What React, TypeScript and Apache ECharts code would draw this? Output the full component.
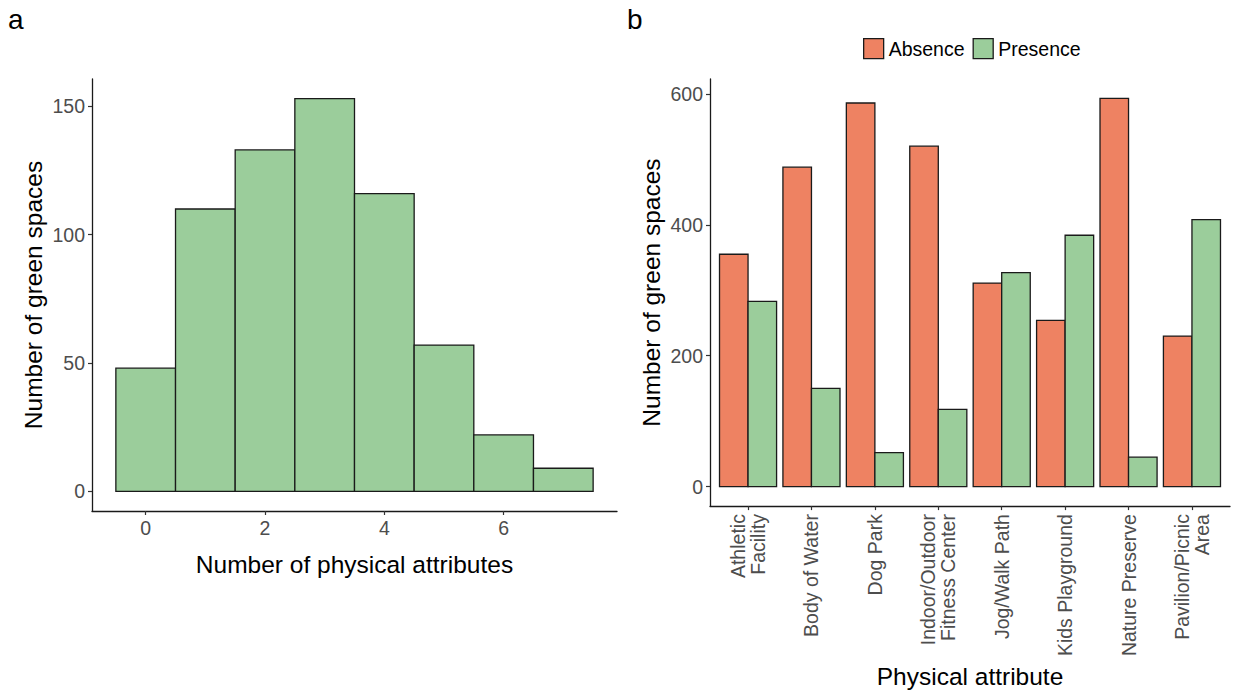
import React, { useEffect, useRef } from "react";
import * as echarts from "echarts";

// ---- Data ----
const histBins: number[] = [0, 1, 2, 3, 4, 5, 6, 7];
const histCounts: number[] = [48, 110, 133, 153, 116, 57, 22, 9];
const histTicks: number[] = [0, 2, 4, 6];
const histYTicks: number[] = [0, 50, 100, 150];

const attributes: string[] = [
  "Athletic\nFacility",
  "Body of Water",
  "Dog Park",
  "Indoor/Outdoor\nFitness Center",
  "Jog/Walk Path",
  "Kids Playground",
  "Nature Preserve",
  "Pavilion/Picnic\nArea",
];
const absence: number[] = [355, 488, 586, 520, 311, 254, 593, 230];
const presence: number[] = [283, 150, 52, 118, 327, 384, 45, 408];
const barYTicks: number[] = [0, 200, 400, 600];

const GREEN = "#9BCD9B";
const ORANGE = "#EE8262";
const FONT = "Liberation Sans, Arial, sans-serif";

export default function App() {
  const ref = useRef<HTMLDivElement>(null);
  useEffect(() => {
    if (!ref.current) return;
    const chart = echarts.init(ref.current, null, { renderer: "svg" });

    const histData = histBins.map((b, i) => [b, histCounts[i]]);
    const absData = attributes.map((_, i) => [i + 1, absence[i]]);
    const presData = attributes.map((_, i) => [i + 1, presence[i]]);

    const rectItem = (lo: number, hi: number, fill: string) => (params: any, api: any) => {
      const x = api.value(0);
      const v = api.value(1);
      const p0 = api.coord([x + lo, v]);
      const p1 = api.coord([x + hi, 0]);
      return {
        type: "rect",
        shape: { x: p0[0], y: p0[1], width: p1[0] - p0[0], height: p1[1] - p0[1] },
        style: { fill, stroke: "#1a1a1a", lineWidth: 1.3 },
      };
    };

    const hMax = Math.max(...histCounts);
    const bMax = Math.max(...absence, ...presence);

    const axisLabel = { color: "#4D4D4D", fontSize: 19.5, fontFamily: FONT, margin: 7 };
    const axisTick = { show: true, length: 4, lineStyle: { color: "#333", width: 1.2 } };
    const axisLine = { show: true, onZero: false, lineStyle: { color: "#1a1a1a", width: 1.3 } };
    const nameStyle = { color: "#000", fontSize: 24.5, fontFamily: FONT };

    chart.setOption({
      animation: false,
      textStyle: { fontFamily: FONT },
      graphic: [
        { type: "text", left: 8, top: 5, style: { text: "a", fontSize: 28, fontFamily: FONT, fill: "#000" } },
        { type: "text", left: 627, top: 5, style: { text: "b", fontSize: 28, fontFamily: FONT, fill: "#000" } },
      ],
      legend: {
        data: [
          { name: "Absence", itemStyle: { color: ORANGE, borderColor: "#1a1a1a", borderWidth: 1.3 } },
          { name: "Presence", itemStyle: { color: GREEN, borderColor: "#1a1a1a", borderWidth: 1.3 } },
        ],
        left: 858,
        top: 33,
        icon: "rect",
        itemWidth: 20,
        itemHeight: 20,
        itemGap: 8,
        textStyle: { fontSize: 19.5, fontFamily: FONT, color: "#000", padding: [0, 0, 0, 0] },
      },
      grid: [
        { left: 92, width: 525, top: 79, height: 432 },
        { left: 710, width: 520, top: 79, height: 432 },
      ],
      xAxis: [
        {
          gridIndex: 0,
          type: "value",
          min: -0.9,
          max: 7.9,
          splitLine: { show: false },
          axisLine,
          axisTick: { ...axisTick, customValues: histTicks },
          axisLabel: { ...axisLabel, customValues: histTicks },
          name: "Number of physical attributes",
          nameLocation: "middle",
          nameGap: 41,
          nameTextStyle: nameStyle,
        },
        {
          gridIndex: 1,
          type: "value",
          min: 0.4,
          max: attributes.length + 0.6,
          splitLine: { show: false },
          axisLine,
          axisTick: { ...axisTick, customValues: attributes.map((_, i) => i + 1) },
          axisLabel: {
            ...axisLabel,
            margin: 8,
            customValues: attributes.map((_, i) => i + 1),
            rotate: 90,
            lineHeight: 20,
            formatter: (v: number) => attributes[Math.round(v) - 1] ?? "",
          },
          name: "Physical attribute",
          nameLocation: "middle",
          nameGap: 152,
          nameTextStyle: nameStyle,
        },
      ],
      yAxis: [
        {
          gridIndex: 0,
          type: "value",
          min: -hMax * 0.05,
          max: hMax * 1.05,
          splitLine: { show: false },
          axisLine,
          axisTick: { ...axisTick, customValues: histYTicks },
          axisLabel: { ...axisLabel, customValues: histYTicks },
          name: "Number of green spaces",
          nameLocation: "middle",
          nameGap: 46,
          nameTextStyle: nameStyle,
        },
        {
          gridIndex: 1,
          type: "value",
          min: -bMax * 0.05,
          max: bMax * 1.05,
          splitLine: { show: false },
          axisLine,
          axisTick: { ...axisTick, customValues: barYTicks },
          axisLabel: { ...axisLabel, customValues: barYTicks },
          name: "Number of green spaces",
          nameLocation: "middle",
          nameGap: 46,
          nameTextStyle: nameStyle,
        },
      ],
      series: [
        {
          name: "Count",
          type: "custom",
          xAxisIndex: 0,
          yAxisIndex: 0,
          renderItem: rectItem(-0.5, 0.5, GREEN),
          data: histData,
          encode: { x: 0, y: 1 },
          itemStyle: { color: GREEN },
        },
        {
          name: "Absence",
          type: "custom",
          xAxisIndex: 1,
          yAxisIndex: 1,
          renderItem: rectItem(-0.45, 0, ORANGE),
          data: absData,
          encode: { x: 0, y: 1 },
          itemStyle: { color: ORANGE, borderColor: "#1a1a1a" },
        },
        {
          name: "Presence",
          type: "custom",
          xAxisIndex: 1,
          yAxisIndex: 1,
          renderItem: rectItem(0, 0.45, GREEN),
          data: presData,
          encode: { x: 0, y: 1 },
          itemStyle: { color: GREEN, borderColor: "#1a1a1a" },
        },
      ],
    });
    return () => chart.dispose();
  }, []);

  return (
    <div
      ref={ref}
      style={{ position: "fixed", left: 0, top: 0, width: 1233, height: 694, background: "#fff" }}
    />
  );
}
